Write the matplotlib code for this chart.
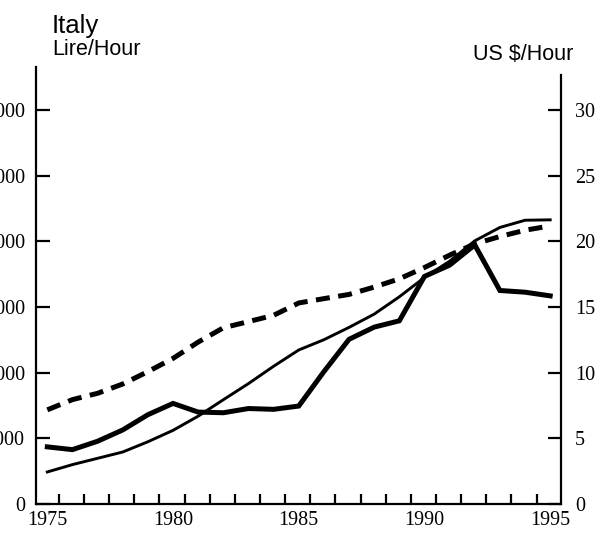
import matplotlib
matplotlib.use("Agg")
import matplotlib.pyplot as plt

# Italy - hourly compensation
years = list(range(1975, 1996))

# thin solid line, national currency (lire per hour)
lire_per_hour = [2440, 3000, 3480, 3960, 4740, 5610, 6690, 7940, 9170, 10490,
                 11730, 12510, 13450, 14460, 15780, 17250, 18490, 20040, 21060,
                 21610, 21640]

# thick solid line, US dollars per hour
usd_per_hour = [4.35, 4.14, 4.78, 5.64, 6.80, 7.66, 7.00, 6.95, 7.27, 7.21,
                7.46, 10.08, 12.54, 13.47, 13.95, 17.33, 18.19, 19.73, 16.26,
                16.13, 15.85]

# dashed line (right scale)
dashed_usd = [7.17, 7.95, 8.43, 9.14, 10.08, 11.09, 12.33, 13.42, 13.89, 14.37,
              15.31, 15.64, 15.96, 16.52, 17.15, 18.01, 18.95, 19.81, 20.37,
              20.85, 21.18]

left_ticks = [0, 5000, 10000, 15000, 20000, 25000, 30000]
right_ticks = [0, 5, 10, 15, 20, 25, 30]
year_labels = [1975, 1980, 1985, 1990, 1995]

serif = "Liberation Serif"
sans = "Liberation Sans"

fig = plt.figure(figsize=(6.10, 5.34), dpi=100)
ax = fig.add_axes([36 / 610, 30 / 534, 525 / 610, 437 / 534])
ax2 = ax.twinx()

ax.plot(years, lire_per_hour, color="black", lw=2.1, solid_joinstyle="miter")
ax2.plot(years, usd_per_hour, color="black", lw=3.6, solid_joinstyle="miter")
ax2.plot(years, dashed_usd, color="black", lw=3.6, linestyle=(0, (2.8, 1.7)),
         dash_capstyle="butt")

ax.set_xlim(1974.55, 1995.43)
ax.set_ylim(0, 33280)
ax2.set_ylim(0, 33.28)

for a in (ax, ax2):
    for side in ("top",):
        a.spines[side].set_visible(False)
    for sp in a.spines.values():
        sp.set_linewidth(1.6)
ax2.spines["left"].set_visible(False)
ax2.spines["bottom"].set_visible(False)
ax.spines["right"].set_visible(False)
ax2.spines["right"].set_bounds(0, 32.67)

# left axis
ax.set_yticks(left_ticks)
ax.set_yticklabels([str(v) for v in left_ticks], fontfamily=serif, fontsize=14.5)
ax.tick_params(axis="y", direction="in", length=10, width=1.6, pad=8)

# right axis
ax2.set_yticks(right_ticks)
ax2.set_yticklabels([str(v) for v in right_ticks], fontfamily=serif, fontsize=14.5)
ax2.tick_params(axis="y", direction="in", length=9.5, width=1.6, pad=10)

# bottom axis: labels on the years, short ticks between them
ax.set_xticks(year_labels)
ax.set_xticklabels([str(v) for v in year_labels], fontfamily=serif, fontsize=14.5)
ax.set_xticks([1975.46 + k for k in range(20)], minor=True)
ax.tick_params(axis="x", which="major", length=0, pad=5)
ax.tick_params(axis="x", which="minor", direction="in", length=7, width=1.6)

fig.text(52 / 610, 1 - 33 / 534, "Italy", fontfamily=sans, fontsize=18.5,
         ha="left", va="baseline")
fig.text(52 / 610, 1 - 55 / 534, "Lire/Hour", fontfamily=sans, fontsize=15.5,
         ha="left", va="baseline")
fig.text(523 / 610, 1 - 60 / 534, "US $/Hour", fontfamily=sans, fontsize=15.5,
         ha="center", va="baseline")

fig.savefig("out.png", dpi=100)
